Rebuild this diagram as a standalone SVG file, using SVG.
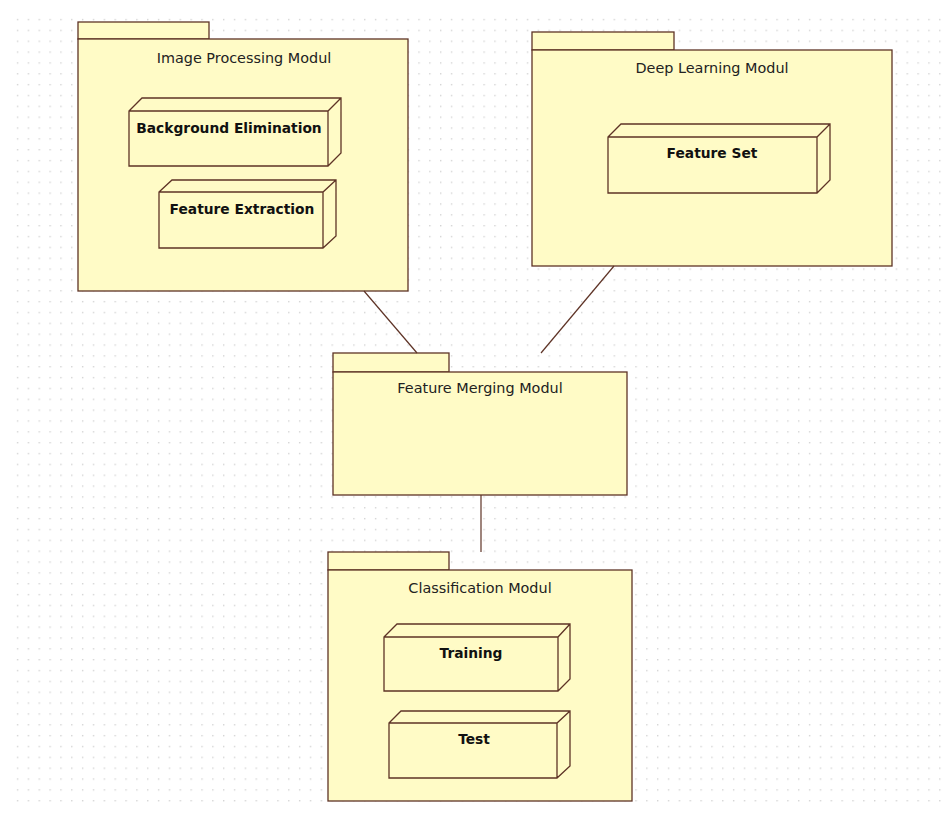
<svg xmlns="http://www.w3.org/2000/svg" width="948" height="815" viewBox="0 0 948 815">
<defs>
<pattern id="grid" x="6" y="8" width="10.85" height="10.85" patternUnits="userSpaceOnUse">
<rect x="0" y="0" width="1.4" height="1.4" fill="#d3d3d3"/>
</pattern>
<style>
.pkg{fill:#fffbc6;stroke:#5e3326;stroke-width:1.3}
.node{fill:#fffbc6;stroke:#5e3326;stroke-width:1.3;stroke-linejoin:miter}
.title{font-family:"DejaVu Sans",Verdana,sans-serif;font-size:14.4px;fill:#222;text-anchor:middle}
.ntext{font-family:"DejaVu Sans",Verdana,sans-serif;font-size:13.8px;font-weight:bold;fill:#111;text-anchor:middle}
.conn{stroke:#5e3326;stroke-width:1.2;fill:none}
</style>
</defs>
<rect width="948" height="815" fill="#ffffff"/>
<rect x="8" y="10" width="936" height="800" fill="url(#grid)"/>

<g id="image-processing">
<rect class="pkg" x="78" y="22" width="131" height="17"/>
<rect class="pkg" x="78" y="39" width="330" height="252"/>
<text class="title" x="244" y="63">Image Processing Modul</text>
</g>
<g id="background-elimination">
<path class="node" d="M129,111 L142,98 L341,98 L341,153 L328,166 L129,166 Z M129,111 L328,111 L341,98 M328,111 L328,166"/>
<text class="ntext" x="229" y="133">Background Elimination</text>
</g>
<g id="feature-extraction">
<path class="node" d="M159,192 L172,180 L336,180 L336,236 L323,248 L159,248 Z M159,192 L323,192 L336,180 M323,192 L323,248"/>
<text class="ntext" x="242" y="214">Feature Extraction</text>
</g>

<g id="deep-learning">
<rect class="pkg" x="532" y="32" width="142" height="18"/>
<rect class="pkg" x="532" y="50" width="360" height="216"/>
<text class="title" x="712" y="73">Deep Learning Modul</text>
</g>
<g id="feature-set">
<path class="node" d="M608,137 L621,124 L830,124 L830,180 L817,193 L608,193 Z M608,137 L817,137 L830,124 M817,137 L817,193"/>
<text class="ntext" x="712" y="158">Feature Set</text>
</g>

<g id="feature-merging">
<rect class="pkg" x="333" y="353" width="116" height="19"/>
<rect class="pkg" x="333" y="372" width="294" height="123"/>
<text class="title" x="480" y="393">Feature Merging Modul</text>
</g>

<g id="classification">
<rect class="pkg" x="328" y="552" width="121" height="18"/>
<rect class="pkg" x="328" y="570" width="304" height="231"/>
<text class="title" x="480" y="593">Classification Modul</text>
</g>
<g id="training">
<path class="node" d="M384,637 L397,624 L570,624 L570,679 L558,691 L384,691 Z M384,637 L558,637 L570,624 M558,637 L558,691"/>
<text class="ntext" x="471" y="658">Training</text>
</g>
<g id="test">
<path class="node" d="M389,723 L401,711 L570,711 L570,766 L557,778 L389,778 Z M389,723 L557,723 L570,711 M557,723 L557,778"/>
<text class="ntext" x="474" y="744">Test</text>
</g>

<g id="connectors">
<line class="conn" x1="364" y1="291" x2="417" y2="353"/>
<line class="conn" x1="614" y1="266" x2="541" y2="353"/>
<line class="conn" x1="481" y1="495" x2="481" y2="552"/>
</g>
</svg>
